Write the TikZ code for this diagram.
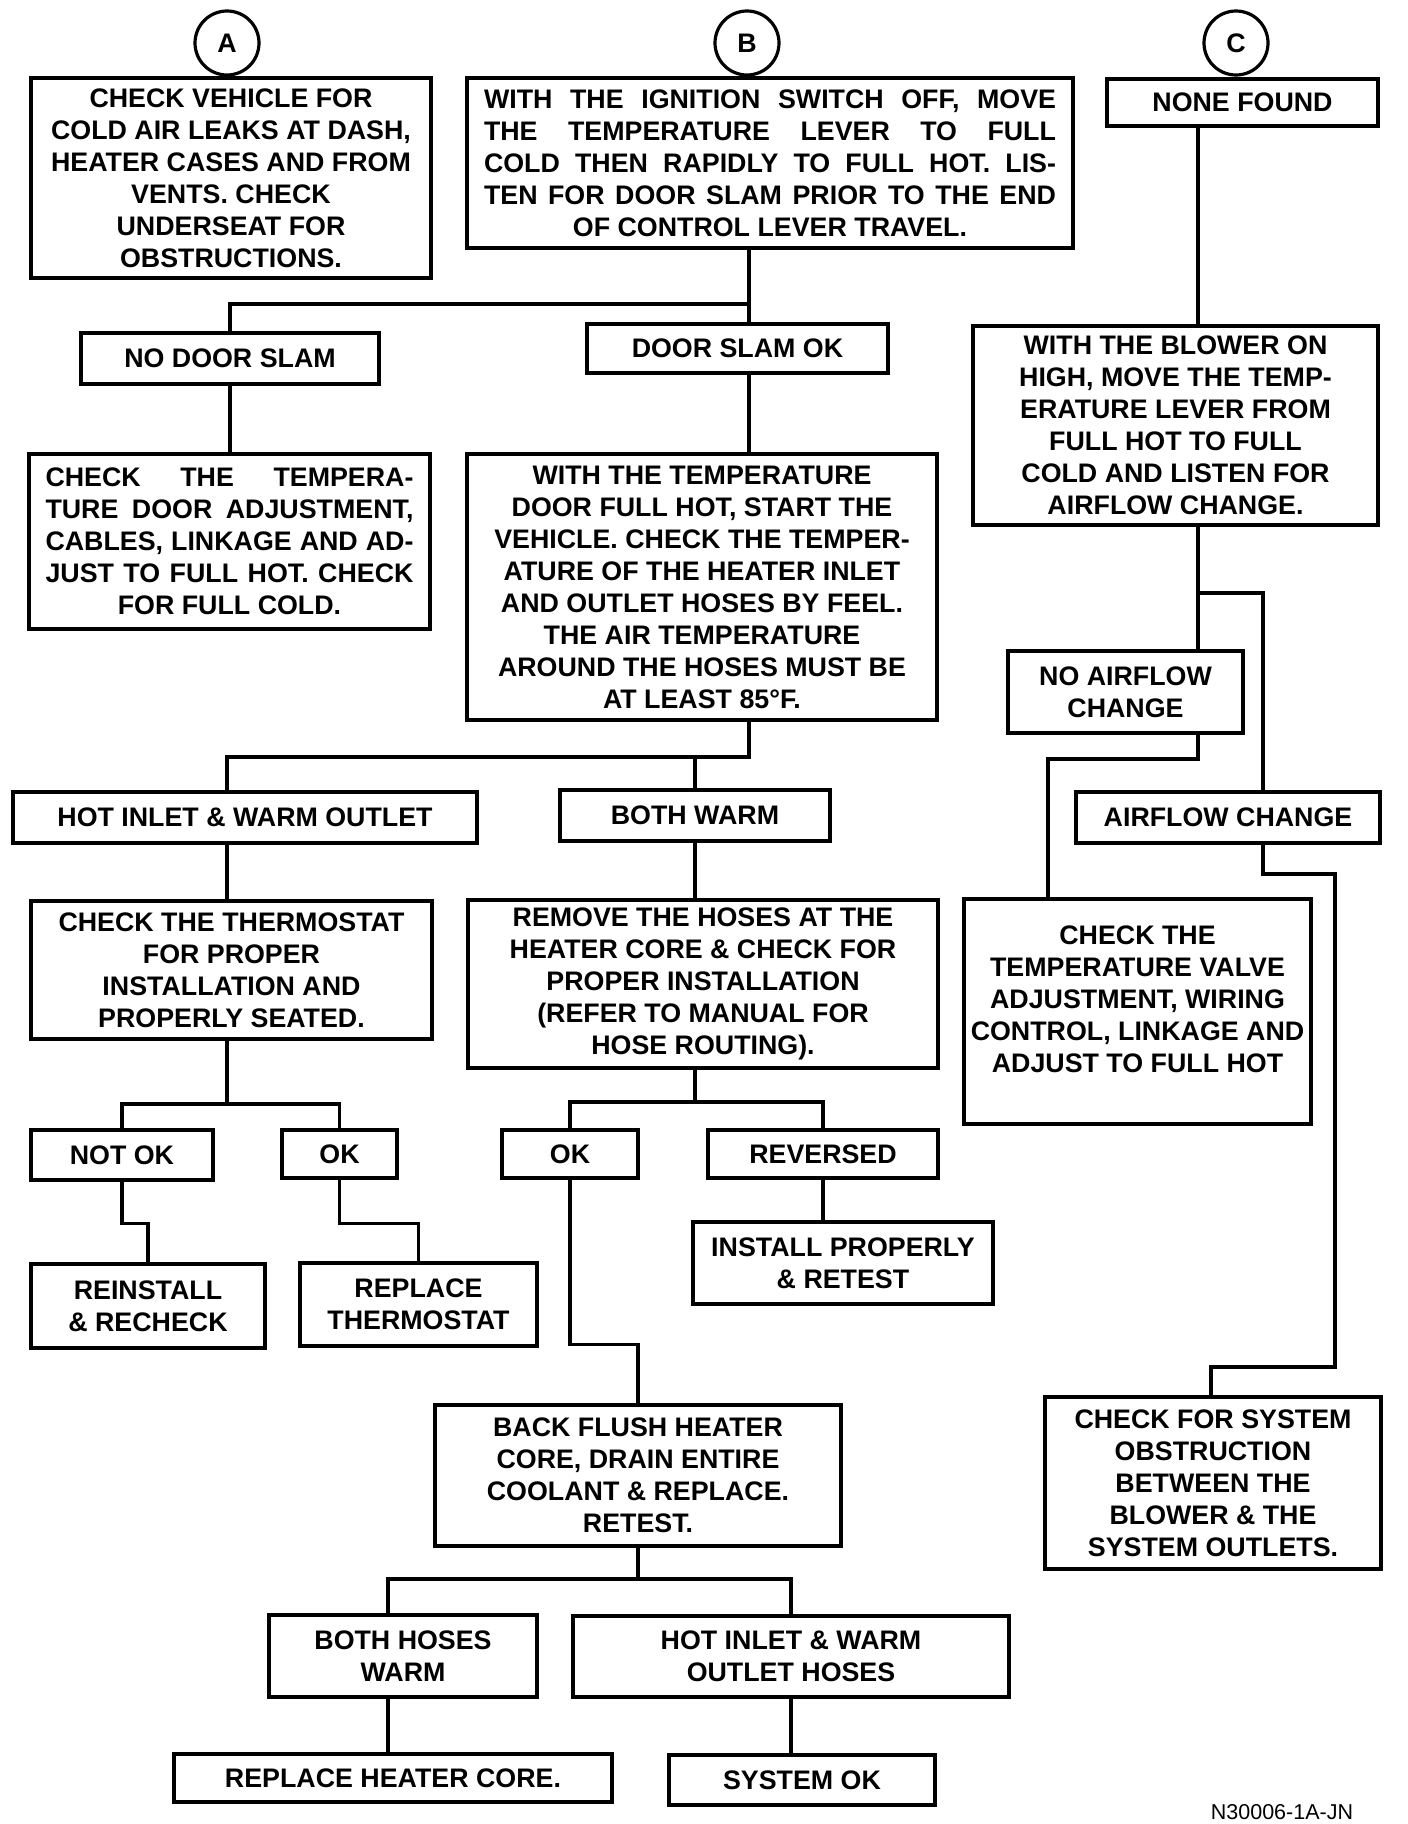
\documentclass[tikz,border=0pt]{standalone}
\usepackage{fontspec}
\setmainfont{Liberation Sans}

\newcommand{\boxfont}{\bfseries\fontsize{26.8}{32}\selectfont}
\newcommand{\jline}[2]{\makebox[#1][s]{#2}}

\tikzset{
  stepbox/.style={draw, line width=3.2pt, inner sep=0pt, align=center, font=\boxfont},
  entry/.style={draw, circle, line width=3.2pt, inner sep=0pt, minimum size=64pt, font=\boxfont},
  link/.style={line width=3.2pt},
}

\begin{document}
\begin{tikzpicture}[x=1pt, y=-1pt]
    \fill[white] (0,0) rectangle (1408,1824);
    \useasboundingbox (0,0) rectangle (1408,1824);

    % entry points
    \node[entry] (pa) at (227,43) {A};
    \node[entry] (pb) at (747,43) {B};
    \node[entry] (pc) at (1236,43) {C};

    % column A and B
    \node[stepbox, minimum width=400pt, minimum height=200pt] (leaks) at (231,178)
        {CHECK VEHICLE FOR\\COLD AIR LEAKS AT DASH,\\HEATER CASES AND FROM\\VENTS. CHECK\\UNDERSEAT FOR\\OBSTRUCTIONS.};
    \node[stepbox, minimum width=606pt, minimum height=170pt] (slam) at (770,163)
        {\jline{572pt}{WITH THE IGNITION SWITCH OFF, MOVE}\\
         \jline{572pt}{THE TEMPERATURE LEVER TO FULL}\\
         \jline{572pt}{COLD THEN RAPIDLY TO FULL HOT. LIS-}\\
         \jline{572pt}{TEN FOR DOOR SLAM PRIOR TO THE END}\\
         OF CONTROL LEVER TRAVEL.};
    \node[stepbox, minimum width=298pt, minimum height=51pt] (noslam) at (230,358.5) {NO DOOR SLAM};
    \node[stepbox, minimum width=301pt, minimum height=49pt] (slamok) at (737.5,348.5) {DOOR SLAM OK};
    \node[stepbox, minimum width=401pt, minimum height=175pt] (dooradj) at (229.5,541.5)
        {\jline{368pt}{CHECK THE TEMPERA-}\\
         \jline{368pt}{TURE DOOR ADJUSTMENT,}\\
         \jline{368pt}{CABLES, LINKAGE AND AD-}\\
         \jline{368pt}{JUST TO FULL HOT. CHECK}\\
         FOR FULL COLD.};
    \node[stepbox, minimum width=470pt, minimum height=266pt] (feel) at (702,587)
        {WITH THE TEMPERATURE\\DOOR FULL HOT, START THE\\VEHICLE. CHECK THE TEMPER-\\ATURE OF THE HEATER INLET\\AND OUTLET HOSES BY FEEL.\\THE AIR TEMPERATURE\\AROUND THE HOSES MUST BE\\AT LEAST 85°F.};
    \node[stepbox, minimum width=464pt, minimum height=51pt] (hotwarm) at (245,817.5) {HOT INLET \& WARM OUTLET};
    \node[stepbox, minimum width=270pt, minimum height=51pt] (bothwarm) at (695,815.5) {BOTH WARM};
    \node[stepbox, minimum width=401pt, minimum height=138pt] (thermo) at (231.5,970)
        {CHECK THE THERMOSTAT\\FOR PROPER\\INSTALLATION AND\\PROPERLY SEATED.};
    \node[stepbox, minimum width=470pt, minimum height=168pt] (hoses) at (703,984)
        {REMOVE THE HOSES AT THE\\HEATER CORE \& CHECK FOR\\PROPER INSTALLATION\\(REFER TO MANUAL FOR\\HOSE ROUTING).};
    \node[stepbox, minimum width=182pt, minimum height=50pt] (notok) at (122,1155) {NOT OK};
    \node[stepbox, minimum width=115pt, minimum height=48pt] (thok) at (339.5,1154) {OK};
    \node[stepbox, minimum width=136pt, minimum height=48pt] (hoseok) at (570,1154) {OK};
    \node[stepbox, minimum width=230pt, minimum height=48pt] (reversed) at (823,1154) {REVERSED};
    \node[stepbox, minimum width=300pt, minimum height=82pt] (install) at (843,1263) {INSTALL PROPERLY\\\& RETEST};
    \node[stepbox, minimum width=234pt, minimum height=84pt] (reinst) at (148,1306) {REINSTALL\\\& RECHECK};
    \node[stepbox, minimum width=237pt, minimum height=83pt] (newthermo) at (418.5,1304.5) {REPLACE\\THERMOSTAT};
    \node[stepbox, minimum width=406pt, minimum height=141pt] (flush) at (638,1475.5)
        {BACK FLUSH HEATER\\CORE, DRAIN ENTIRE\\COOLANT \& REPLACE.\\RETEST.};
    \node[stepbox, minimum width=268pt, minimum height=82pt] (bothhoses) at (403,1656) {BOTH HOSES\\WARM};
    \node[stepbox, minimum width=436pt, minimum height=81pt] (hothoses) at (791,1656.5) {HOT INLET \& WARM\\OUTLET HOSES};
    \node[stepbox, minimum width=438pt, minimum height=48pt] (newcore) at (393,1778) {REPLACE HEATER CORE.};
    \node[stepbox, minimum width=266pt, minimum height=50pt] (sysok) at (802,1780) {SYSTEM OK};

    % column C
    \node[stepbox, minimum width=271pt, minimum height=47pt] (nonefound) at (1242.5,102.5) {NONE FOUND};
    \node[stepbox, minimum width=405pt, minimum height=199pt] (blower) at (1175.5,425.5)
        {WITH THE BLOWER ON\\HIGH, MOVE THE TEMP-\\ERATURE LEVER FROM\\FULL HOT TO FULL\\COLD AND LISTEN FOR\\AIRFLOW CHANGE.};
    \node[stepbox, minimum width=235pt, minimum height=82pt] (noflow) at (1125.5,692) {NO AIRFLOW\\CHANGE};
    \node[stepbox, minimum width=304pt, minimum height=51pt] (flow) at (1228,817.5) {AIRFLOW CHANGE};
    \node[stepbox, minimum width=347pt, minimum height=225pt] (valve) at (1137.5,1011.5)
        {CHECK THE\\TEMPERATURE VALVE\\ADJUSTMENT, WIRING\\CONTROL, LINKAGE AND\\ADJUST TO FULL HOT\\[-8pt]\mbox{}};
    \node[stepbox, minimum width=336pt, minimum height=172pt] (obstr) at (1213,1483)
        {CHECK FOR SYSTEM\\OBSTRUCTION\\BETWEEN THE\\BLOWER \& THE\\SYSTEM OUTLETS.};

    \node[font=\fontsize{21.5}{24}\selectfont, anchor=base] (figno) at (1282,1819) {N30006-1A-JN};

    % turning points
    \coordinate (bsplit) at (749,304);
    \coordinate (wsplit) at (749,757);
    \coordinate (wleft) at (227,757);
    \coordinate (tsplit) at (227,1104);
    \coordinate (rsplit) at (695,1102);
    \coordinate (fsplit) at (639,1579);
    \coordinate (fleft) at (388,1579);
    \coordinate (csplit) at (1198,593);
    \coordinate (cright) at (1263,593);
    \coordinate (vturn) at (1048,759);
    \coordinate (oturn) at (1335,874);
    \coordinate (oback) at (1211,1367);

    \draw[link] (bsplit |- slam.south) -- (bsplit |- slamok.north);
    \draw[link] (bsplit) -| (noslam.north);
    \draw[link] (noslam.south) -- (noslam.south |- dooradj.north);
    \draw[link] (bsplit |- slamok.south) -- (bsplit |- feel.north);

    \draw[link] (wsplit |- feel.south) -- (wsplit) -- (wleft) -- (wleft |- hotwarm.north);
    \draw[link] (wsplit -| bothwarm.north) -- (bothwarm.north);
    \draw[link] (wleft |- hotwarm.south) -- (wleft |- thermo.north);
    \draw[link] (tsplit |- thermo.south) -- (tsplit);
    \draw[link] (notok.north) |- (tsplit) -| (thok.north);
    \draw[link] (notok.south) -- ++(0,42) -| (reinst.north);
    \draw[link] (thok.south) -- ++(0,44) -| (newthermo.north);

    \draw[link] (bothwarm.south) -- (bothwarm.south |- hoses.north);
    \draw[link] (rsplit |- hoses.south) -- (rsplit);
    \draw[link] (hoseok.north) |- (rsplit) -| (reversed.north);
    \draw[link] (reversed.south) -- (reversed.south |- install.north);
    \draw[link] (hoseok.south) -- ++(0,165) -| (flush.north);
    \draw[link] (flush.south) -- (flush.south |- fsplit);
    \draw[link] (fleft |- bothhoses.north) -- (fleft) -| (hothoses.north);
    \draw[link] (fleft |- bothhoses.south) -- (fleft |- newcore.north);
    \draw[link] (hothoses.south) -- (hothoses.south |- sysok.north);

    \draw[link] (csplit |- nonefound.south) -- (csplit |- blower.north);
    \draw[link] (csplit |- blower.south) -- (csplit |- noflow.north);
    \draw[link] (csplit) -- (cright) -- (cright |- flow.north);
    \draw[link] (noflow.south -| csplit) |- (vturn) -- (vturn |- valve.north);
    \draw[link] (cright |- flow.south) |- (oturn) |- (oback) -- (oback |- obstr.north);
  \end{tikzpicture}
\end{document}
